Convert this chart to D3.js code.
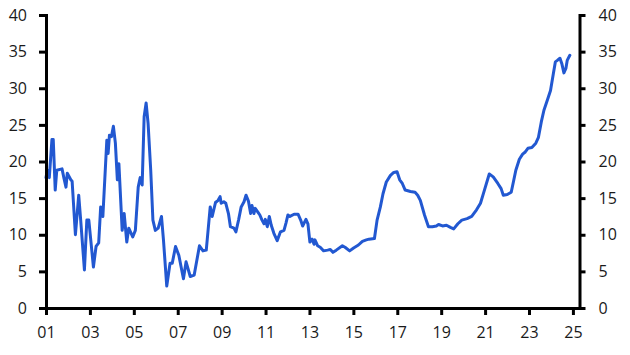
<!DOCTYPE html>
<html>
<head>
<meta charset="utf-8">
<script src="https://cdn.jsdelivr.net/npm/d3@7"></script>
<style>
  html, body { margin: 0; padding: 0; background: #fff; }
  svg { display: block; }
  .axis text { font-family: "Open Sans", "Noto Sans", sans-serif; font-size: 16px; fill: #1a1a1a; }
  .axis path, .axis line { stroke: #000; stroke-width: 3px; }
</style>
</head>
<body>
<svg id="chart" width="630" height="355"></svg>
<script>
// Decimal-year dates and values
const dates = [
  2001.00, 2001.06, 2001.15, 2001.27, 2001.33, 2001.42, 2001.49, 2001.73, 2001.82, 2001.91,
  2001.97, 2002.13, 2002.19, 2002.34, 2002.49, 2002.58, 2002.75, 2002.86, 2002.95, 2003.16,
  2003.28, 2003.40, 2003.49, 2003.59, 2003.77, 2003.83, 2003.89, 2003.98, 2004.07, 2004.16,
  2004.25, 2004.32, 2004.47, 2004.56, 2004.68, 2004.77, 2004.95, 2005.07, 2005.20, 2005.29,
  2005.38, 2005.47, 2005.56, 2005.65, 2005.77, 2005.87, 2005.98, 2006.11, 2006.26, 2006.35,
  2006.50, 2006.65, 2006.75, 2006.90, 2007.05, 2007.26, 2007.38, 2007.57, 2007.75, 2007.99,
  2008.15, 2008.30, 2008.48, 2008.57, 2008.72, 2008.84, 2008.93, 2008.98, 2009.10, 2009.19,
  2009.31, 2009.40, 2009.56, 2009.65, 2009.77, 2009.89, 2010.02, 2010.11, 2010.22, 2010.32,
  2010.38, 2010.47, 2010.53, 2010.65, 2010.74, 2010.84, 2010.93, 2010.99, 2011.08, 2011.17,
  2011.26, 2011.38, 2011.53, 2011.68, 2011.84, 2011.93, 2012.02, 2012.11, 2012.30, 2012.48,
  2012.60, 2012.69, 2012.84, 2012.93, 2013.02, 2013.12, 2013.21, 2013.25, 2013.37, 2013.49,
  2013.64, 2013.83, 2013.95, 2014.07, 2014.22, 2014.50, 2014.62, 2014.83, 2015.01, 2015.23,
  2015.41, 2015.59, 2015.71, 2015.96, 2016.08, 2016.23, 2016.35, 2016.50, 2016.69, 2016.84,
  2016.99, 2017.11, 2017.23, 2017.36, 2017.60, 2017.81, 2017.93, 2018.05, 2018.24, 2018.42,
  2018.60, 2018.78, 2018.88, 2019.06, 2019.24, 2019.42, 2019.57, 2019.76, 2019.94, 2020.18,
  2020.39, 2020.61, 2020.79, 2020.97, 2021.19, 2021.37, 2021.58, 2021.73, 2021.83, 2022.01,
  2022.19, 2022.31, 2022.40, 2022.56, 2022.71, 2022.83, 2022.95, 2023.13, 2023.31, 2023.43,
  2023.56, 2023.68, 2023.86, 2023.98, 2024.11, 2024.20, 2024.29, 2024.41, 2024.50, 2024.59,
  2024.68, 2024.74, 2024.86
];
const values = [
  17.8, 18.8, 17.8, 23.0, 23.0, 16.1, 18.8, 19.0, 17.7, 16.5,
  18.4, 17.5, 17.3, 10.0, 15.4, 12.0, 5.2, 12.0, 12.0, 5.6,
  8.4, 8.9, 13.8, 12.5, 22.9, 21.1, 23.6, 23.4, 24.8, 22.5,
  17.5, 19.7, 10.6, 12.9, 9.0, 10.9, 9.7, 10.6, 16.5, 17.8,
  16.8, 26.1, 28.0, 25.2, 18.8, 12.0, 10.6, 10.9, 12.5, 9.3,
  3.0, 6.1, 6.1, 8.4, 7.2, 4.0, 6.3, 4.3, 4.5, 8.5,
  7.8, 7.9, 13.8, 12.5, 14.4, 14.7, 15.2, 14.3, 14.5, 14.3,
  12.9, 11.1, 10.9, 10.4, 12.0, 13.8, 14.5, 15.4, 14.6, 12.9,
  14.0, 12.9, 13.6, 13.1, 12.7, 12.0, 11.5, 12.1, 11.1, 12.5,
  11.3, 10.2, 9.2, 10.4, 10.6, 11.6, 12.7, 12.5, 12.8, 12.8,
  12.0, 11.2, 12.1, 11.5, 9.0, 9.4, 8.7, 9.3, 8.5, 8.3,
  7.8, 7.9, 8.0, 7.6, 7.9, 8.5, 8.3, 7.8, 8.2, 8.6,
  9.1, 9.3, 9.4, 9.5, 12.0, 13.8, 15.6, 17.2, 18.1, 18.5,
  18.6, 17.5, 17.0, 16.1, 15.9, 15.8, 15.4, 14.7, 12.7, 11.1,
  11.1, 11.2, 11.4, 11.2, 11.3, 11.0, 10.8, 11.5, 12.0, 12.2,
  12.5, 13.4, 14.3, 16.1, 18.3, 17.9, 17.0, 16.3, 15.4, 15.5,
  15.8, 17.5, 18.8, 20.3, 21.0, 21.3, 21.8, 21.9, 22.5, 23.3,
  25.4, 27.0, 28.6, 29.7, 32.0, 33.6, 33.8, 34.1, 33.3, 32.1,
  32.7, 33.8, 34.5
];
const xTickYears = [2001, 2003, 2005, 2007, 2009, 2011, 2013, 2015, 2017, 2019, 2021, 2023, 2025];
const xTickLabels = ["01", "03", "05", "07", "09", "11", "13", "15", "17", "19", "21", "23", "25"];
const yTicks = [0, 5, 10, 15, 20, 25, 30, 35, 40];

const svg = d3.select("#chart");
const mLeft = 46, mRight = 579.5, mTop = 15, mBottom = 308;

const x = d3.scaleLinear().domain([2001, 2025.3]).range([mLeft, mRight]);
const y = d3.scaleLinear().domain([0, 40]).range([mBottom, mTop]);

// Line
const data = dates.map((d, i) => ({ t: d, v: values[i] }));
svg.append("path")
  .datum(data)
  .attr("fill", "none")
  .attr("stroke", "#2258d1")
  .attr("stroke-width", 3)
  .attr("stroke-linejoin", "round")
  .attr("stroke-linecap", "round")
  .attr("d", d3.line().x(d => x(d.t)).y(d => y(d.v)));

// Axes
const xAxis = d3.axisBottom(x)
  .tickValues(xTickYears)
  .tickFormat((d, i) => xTickLabels[i])
  .tickSize(7).tickSizeOuter(0).tickPadding(12);
svg.append("g").attr("class", "axis")
  .attr("transform", `translate(0,${mBottom})`)
  .call(xAxis);

const yLeft = d3.axisLeft(y).tickValues(yTicks).tickSize(7).tickSizeOuter(0).tickPadding(12);
svg.append("g").attr("class", "axis")
  .attr("transform", `translate(${mLeft},0)`)
  .call(yLeft);

const yRight = d3.axisRight(y).tickValues(yTicks).tickSize(6).tickSizeOuter(0).tickPadding(13);
svg.append("g").attr("class", "axis")
  .attr("transform", `translate(${mRight},0)`)
  .call(yRight);

svg.selectAll(".axis .domain").attr("stroke-linecap", "square");
</script>
</body>
</html>
